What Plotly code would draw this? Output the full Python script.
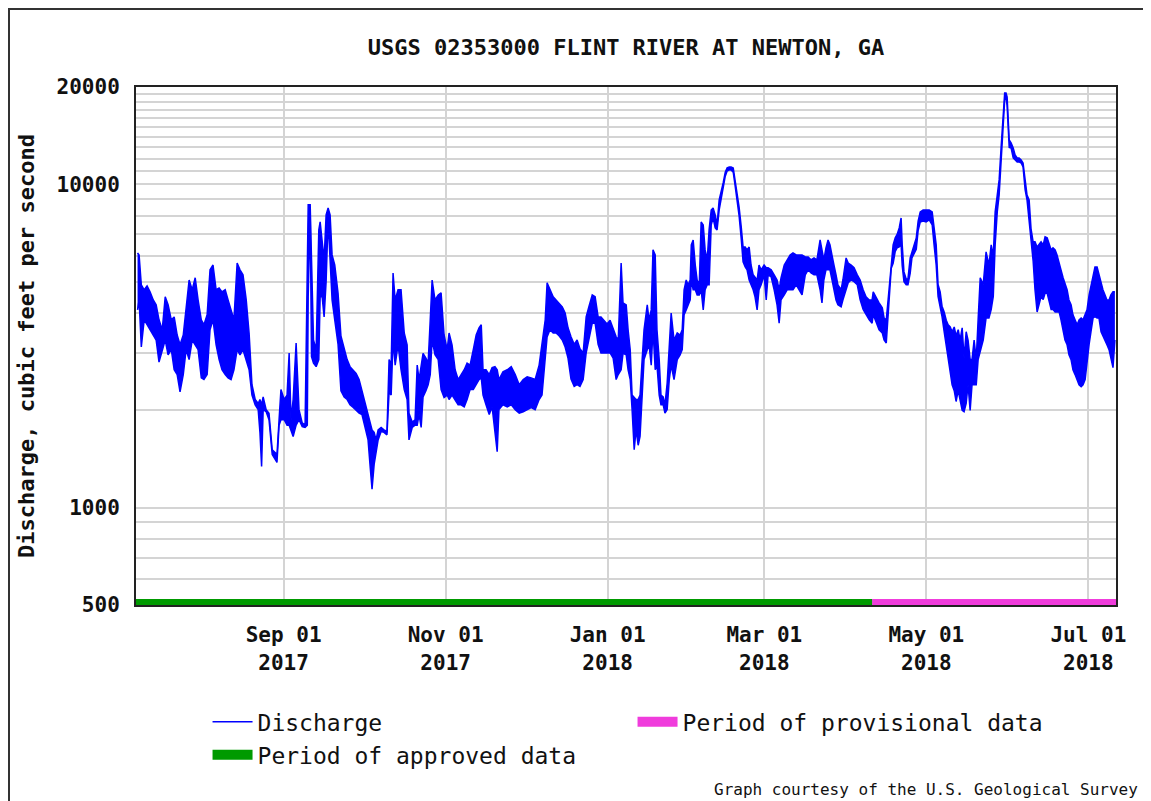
import plotly.graph_objects as go

# ---------------- data read from the USGS hydrograph ----------------
# each sample: time, upper and lower envelope of the 15-min discharge (cfs)
dates = [
    # Jul 2017
    "2017-07-08 00:00", "2017-07-08 14:00", "2017-07-09 10:00", "2017-07-10 12:00", "2017-07-11 14:00",
    "2017-07-12 17:00", "2017-07-13 22:00", "2017-07-15 00:00", "2017-07-16 02:00", "2017-07-17 07:00",
    "2017-07-18 10:00", "2017-07-19 12:00", "2017-07-20 17:00", "2017-07-21 19:00", "2017-07-22 22:00",
    "2017-07-24 00:00", "2017-07-25 05:00", "2017-07-26 07:00", "2017-07-27 10:00", "2017-07-28 14:00",
    "2017-07-29 17:00", "2017-07-30 19:00",
    # Aug 2017
    "2017-08-01 00:00", "2017-08-02 00:00", "2017-08-03 05:00", "2017-08-04 07:00", "2017-08-05 10:00",
    "2017-08-06 14:00", "2017-08-07 17:00", "2017-08-08 19:00", "2017-08-10 00:00", "2017-08-11 02:00",
    "2017-08-12 05:00", "2017-08-13 07:00", "2017-08-14 12:00", "2017-08-15 14:00", "2017-08-16 17:00",
    "2017-08-17 22:00", "2017-08-19 00:00", "2017-08-20 02:00", "2017-08-21 07:00", "2017-08-22 10:00",
    "2017-08-23 02:00", "2017-08-23 17:00", "2017-08-24 07:00", "2017-08-25 10:00", "2017-08-26 12:00",
    "2017-08-27 17:00", "2017-08-28 19:00", "2017-08-29 12:00", "2017-08-30 07:00", "2017-08-31 00:00",
    # Sep 2017
    "2017-09-01 05:00", "2017-09-02 07:00", "2017-09-03 02:00", "2017-09-03 19:00", "2017-09-04 14:00",
    "2017-09-05 17:00", "2017-09-06 19:00", "2017-09-08 00:00", "2017-09-09 02:00", "2017-09-09 22:00",
    "2017-09-10 06:00", "2017-09-11 00:00", "2017-09-11 12:00", "2017-09-12 06:00", "2017-09-13 06:00",
    "2017-09-14 06:00", "2017-09-14 18:00", "2017-09-15 12:00", "2017-09-16 06:00", "2017-09-17 00:00",
    "2017-09-17 18:00", "2017-09-18 12:00", "2017-09-19 06:00", "2017-09-20 06:00", "2017-09-21 12:00",
    "2017-09-22 14:00", "2017-09-23 19:00", "2017-09-24 22:00", "2017-09-26 00:00", "2017-09-27 05:00",
    "2017-09-28 07:00", "2017-09-29 10:00", "2017-09-30 12:00",
    # Oct 2017
    "2017-10-01 17:00", "2017-10-02 19:00", "2017-10-03 14:00", "2017-10-04 07:00", "2017-10-05 02:00",
    "2017-10-05 19:00", "2017-10-06 14:00", "2017-10-07 17:00", "2017-10-08 19:00", "2017-10-09 22:00",
    "2017-10-10 17:00", "2017-10-11 12:00", "2017-10-12 05:00", "2017-10-13 00:00", "2017-10-14 02:00",
    "2017-10-15 05:00", "2017-10-16 10:00", "2017-10-17 12:00", "2017-10-18 05:00", "2017-10-19 10:00",
    "2017-10-20 12:00", "2017-10-21 07:00", "2017-10-22 00:00", "2017-10-22 19:00", "2017-10-23 12:00",
    "2017-10-24 14:00", "2017-10-25 10:00", "2017-10-26 05:00", "2017-10-26 22:00", "2017-10-28 00:00",
    "2017-10-29 05:00", "2017-10-30 07:00", "2017-10-31 10:00",
    # Nov 2017
    "2017-11-01 14:00", "2017-11-02 07:00", "2017-11-03 10:00", "2017-11-04 14:00", "2017-11-05 17:00",
    "2017-11-06 19:00", "2017-11-08 00:00", "2017-11-09 02:00", "2017-11-10 05:00", "2017-11-11 10:00",
    "2017-11-12 12:00", "2017-11-13 14:00", "2017-11-14 10:00", "2017-11-15 02:00", "2017-11-16 05:00",
    "2017-11-17 10:00", "2017-11-18 12:00", "2017-11-19 14:00", "2017-11-20 10:00", "2017-11-21 02:00",
    "2017-11-22 14:00", "2017-11-24 05:00", "2017-11-25 17:00", "2017-11-27 05:00", "2017-11-28 17:00",
    "2017-11-30 05:00",
    # Dec 2017
    "2017-12-01 17:00", "2017-12-03 05:00", "2017-12-04 17:00", "2017-12-06 05:00", "2017-12-07 07:00",
    "2017-12-08 12:00", "2017-12-09 05:00", "2017-12-10 07:00", "2017-12-11 12:00", "2017-12-12 14:00",
    "2017-12-13 17:00", "2017-12-14 22:00", "2017-12-16 00:00", "2017-12-17 02:00", "2017-12-18 05:00",
    "2017-12-19 10:00", "2017-12-20 12:00", "2017-12-21 14:00", "2017-12-22 19:00", "2017-12-23 22:00",
    "2017-12-25 00:00", "2017-12-26 05:00", "2017-12-27 07:00", "2017-12-28 10:00", "2017-12-29 12:00",
    "2017-12-30 17:00", "2017-12-31 19:00",
    # Jan 2018
    "2018-01-01 22:00", "2018-01-03 02:00", "2018-01-04 05:00", "2018-01-05 00:00", "2018-01-06 02:00",
    "2018-01-06 19:00", "2018-01-08 00:00", "2018-01-08 17:00", "2018-01-09 12:00", "2018-01-10 05:00",
    "2018-01-11 00:00", "2018-01-11 17:00", "2018-01-12 12:00", "2018-01-13 05:00", "2018-01-14 00:00",
    "2018-01-14 17:00", "2018-01-15 22:00", "2018-01-16 14:00", "2018-01-17 10:00", "2018-01-18 02:00",
    "2018-01-18 22:00", "2018-01-19 14:00", "2018-01-20 10:00", "2018-01-21 02:00", "2018-01-21 22:00",
    "2018-01-22 14:00", "2018-01-23 10:00", "2018-01-24 05:00", "2018-01-24 22:00", "2018-01-26 00:00",
    "2018-01-27 05:00", "2018-01-28 07:00", "2018-01-29 02:00", "2018-01-29 19:00", "2018-01-30 14:00",
    "2018-01-31 07:00",
    # Feb 2018
    "2018-02-01 02:00", "2018-02-01 12:00", "2018-02-02 05:00", "2018-02-03 00:00", "2018-02-03 17:00",
    "2018-02-04 12:00", "2018-02-05 05:00", "2018-02-06 00:00", "2018-02-06 17:00", "2018-02-07 12:00",
    "2018-02-08 05:00", "2018-02-09 00:00", "2018-02-09 17:00", "2018-02-10 12:00", "2018-02-11 05:00",
    "2018-02-12 00:00", "2018-02-12 17:00", "2018-02-13 12:00", "2018-02-14 07:00", "2018-02-15 00:00",
    "2018-02-15 19:00", "2018-02-16 12:00", "2018-02-17 07:00", "2018-02-18 00:00", "2018-02-18 19:00",
    "2018-02-19 12:00", "2018-02-20 07:00", "2018-02-21 00:00", "2018-02-21 19:00", "2018-02-22 12:00",
    "2018-02-23 07:00", "2018-02-24 00:00", "2018-02-24 19:00", "2018-02-25 12:00", "2018-02-26 07:00",
    "2018-02-27 00:00", "2018-02-27 19:00",
    # Mar 2018
    "2018-02-28 22:00", "2018-03-01 17:00", "2018-03-02 10:00", "2018-03-03 14:00", "2018-03-04 17:00",
    "2018-03-05 19:00", "2018-03-06 14:00", "2018-03-07 07:00", "2018-03-08 12:00", "2018-03-09 14:00",
    "2018-03-10 17:00", "2018-03-11 19:00", "2018-03-13 00:00", "2018-03-14 02:00", "2018-03-15 05:00",
    "2018-03-16 10:00", "2018-03-17 12:00", "2018-03-18 14:00", "2018-03-19 17:00", "2018-03-20 19:00",
    "2018-03-22 00:00", "2018-03-22 17:00", "2018-03-23 10:00", "2018-03-24 05:00", "2018-03-25 00:00",
    "2018-03-25 17:00", "2018-03-26 12:00", "2018-03-27 05:00", "2018-03-28 00:00", "2018-03-28 17:00",
    "2018-03-29 22:00", "2018-03-30 14:00",
    # Apr 2018
    "2018-03-31 19:00", "2018-04-01 14:00", "2018-04-02 17:00", "2018-04-03 19:00", "2018-04-05 00:00",
    "2018-04-06 02:00", "2018-04-07 05:00", "2018-04-08 07:00", "2018-04-09 12:00", "2018-04-10 14:00",
    "2018-04-11 00:00", "2018-04-12 02:00", "2018-04-13 05:00", "2018-04-14 10:00", "2018-04-15 02:00",
    "2018-04-15 22:00", "2018-04-16 14:00", "2018-04-17 00:00", "2018-04-17 19:00", "2018-04-18 12:00",
    "2018-04-19 07:00", "2018-04-20 00:00", "2018-04-20 19:00", "2018-04-21 12:00", "2018-04-21 22:00",
    "2018-04-22 14:00", "2018-04-23 10:00", "2018-04-24 02:00", "2018-04-24 22:00", "2018-04-25 14:00",
    "2018-04-26 10:00", "2018-04-27 05:00", "2018-04-27 22:00", "2018-04-28 17:00", "2018-04-29 19:00",
    # May 2018
    "2018-04-30 22:00", "2018-05-02 02:00", "2018-05-03 05:00", "2018-05-03 22:00", "2018-05-04 17:00",
    "2018-05-05 10:00", "2018-05-06 05:00", "2018-05-06 22:00", "2018-05-07 17:00", "2018-05-08 12:00",
    "2018-05-09 05:00", "2018-05-10 00:00", "2018-05-10 17:00", "2018-05-11 12:00", "2018-05-12 05:00",
    "2018-05-13 00:00", "2018-05-13 17:00", "2018-05-14 12:00", "2018-05-15 05:00", "2018-05-16 00:00",
    "2018-05-16 17:00", "2018-05-17 12:00", "2018-05-18 05:00", "2018-05-19 00:00", "2018-05-19 19:00",
    "2018-05-20 12:00", "2018-05-21 07:00", "2018-05-22 10:00", "2018-05-23 12:00", "2018-05-24 14:00",
    "2018-05-25 10:00", "2018-05-26 05:00", "2018-05-26 22:00", "2018-05-27 17:00", "2018-05-28 10:00",
    "2018-05-29 05:00", "2018-05-29 22:00", "2018-05-30 12:00", "2018-05-31 00:00", "2018-05-31 10:00",
    # Jun 2018
    "2018-06-01 05:00", "2018-06-01 22:00", "2018-06-02 17:00", "2018-06-03 10:00", "2018-06-04 05:00",
    "2018-06-04 22:00", "2018-06-05 17:00", "2018-06-06 10:00", "2018-06-07 05:00", "2018-06-07 22:00",
    "2018-06-08 17:00", "2018-06-09 10:00", "2018-06-10 05:00", "2018-06-10 22:00", "2018-06-11 17:00",
    "2018-06-12 10:00", "2018-06-13 05:00", "2018-06-14 00:00", "2018-06-14 17:00", "2018-06-15 12:00",
    "2018-06-16 05:00", "2018-06-17 00:00", "2018-06-17 17:00", "2018-06-18 12:00", "2018-06-19 05:00",
    "2018-06-20 00:00", "2018-06-20 17:00", "2018-06-21 12:00", "2018-06-22 05:00", "2018-06-23 00:00",
    "2018-06-23 17:00", "2018-06-24 12:00", "2018-06-25 05:00", "2018-06-26 00:00", "2018-06-26 19:00",
    "2018-06-27 12:00", "2018-06-28 07:00", "2018-06-29 00:00", "2018-06-29 19:00", "2018-06-30 12:00",
    # Jul 2018
    "2018-07-01 07:00", "2018-07-02 00:00", "2018-07-02 19:00", "2018-07-03 12:00", "2018-07-04 07:00",
    "2018-07-05 00:00", "2018-07-05 19:00", "2018-07-06 12:00", "2018-07-07 07:00", "2018-07-08 00:00",
    "2018-07-08 19:00", "2018-07-09 12:00", "2018-07-10 07:00", "2018-07-11 00:00",
]

q_high = [
    # Jul 2017
    6140, 6050, 4890, 4720, 4850, 4650, 4390, 4240, 3810, 3550, 4490, 4240, 3810, 3890, 3420,
    3190, 3420, 4240, 5060, 4720, 5140, 4390,
    # Aug 2017
    3810, 3680, 3950, 5440, 5630, 4720, 4780, 4650, 4720, 4390, 4090, 3810, 5710, 5440, 5250,
    4390, 3470, 2400, 2160, 2100, 2160, 2080, 2200, 2010, 1960, 1510, 1480, 1460, 1870, 2320,
    # Sep 2017
    2160, 2230, 3010, 1870, 2160, 3230, 2010, 1830, 1800, 4490, 8640, 8640, 6270, 3300, 3080,
    7230, 7650, 6500, 5840, 8040, 8450, 8040, 6050, 5630, 4600, 3400, 3080, 2870, 2730, 2670,
    2600, 2490, 2300,
    # Oct 2017
    2080, 1940, 1800, 1740, 1710, 1620, 1740, 1770, 1740, 1720, 2870, 2760, 5320, 4390, 4720,
    4720, 3470, 3190, 1960, 1840, 1870, 2760, 2490, 2800, 3000, 2900, 2800, 3810, 5060, 4390,
    4550, 4620, 3420,
    # Nov 2017
    3080, 3470, 3190, 2670, 2490, 2580, 2670, 2800, 2760, 3080, 3420, 3600, 3680, 2670, 2670,
    2580, 2710, 2730, 2670, 2490, 2630, 2670, 2730, 2580, 2400, 2490,
    # Dec 2017
    2540, 2520, 2490, 2760, 3190, 3810, 4960, 4720, 4490, 4390, 4300, 4180, 4000, 3600, 3375,
    3200, 3300, 3100, 3010, 3890, 4200, 4550, 4490, 3890, 3890, 3800, 3700,
    # Jan 2018
    3800, 3600, 3375, 3300, 5710, 4300, 4240, 3550, 3080, 2230, 2200, 2160, 2160, 2230, 2870,
    3550, 4240, 3810, 4090, 6270, 6050, 3550, 2870, 2230, 2200, 2080, 2430, 3080, 4000, 3300,
    3470, 3420, 3550, 4720, 5060, 4890,
    # Feb 2018
    5060, 6500, 6730, 5630, 5060, 4890, 7650, 7490, 6270, 5840, 7230, 8330, 8450, 8040, 7490,
    8950, 9410, 10100, 10900, 11240, 11320, 11320, 11240, 10300, 9410, 8500, 7400, 6400, 6400, 6270,
    6400, 5630, 5250, 5140, 5060, 5630, 5440,
    # Mar 2018
    5630, 5520, 5520, 5440, 5250, 5060, 4720, 5140, 5630, 5840, 6050, 6140, 6050, 6050, 6050,
    5960, 5960, 5840, 5920, 5840, 6730, 6270, 5840, 6360, 6730, 6500, 5960, 5630, 5250, 4890,
    4720, 5060,
    # Apr 2018
    5920, 5710, 5630, 5520, 5250, 5060, 4720, 4490, 4390, 4390, 4650, 4460, 4300, 4150, 3860,
    3810, 4390, 4900, 5920, 6500, 6830, 7000, 7330, 7870, 6500, 5360, 5100, 5100, 5920, 6200,
    6500, 6830, 7700, 8220, 8330,
    # May 2018
    8330, 8330, 8220, 7400, 6500, 4900, 4650, 4200, 4030, 3800, 3680, 3620, 3500, 3620, 3400,
    3550, 3300, 3600, 2900, 3500, 3300, 2870, 2870, 3300, 2870, 3810, 5140, 4900, 6180, 5630,
    6500, 6000, 8220, 9270, 10320, 13230, 16500, 19160, 19160, 18630,
    # Jun 2018
    13720, 13430, 12960, 12330, 12070, 12070, 11900, 11640, 10320, 9270, 8950, 7300, 6640, 6640, 6400,
    6500, 6640, 6500, 6880, 6830, 6500, 6270, 6360, 6270, 6050, 5760, 5440, 5140, 4890, 4720,
    4390, 4240, 3950, 3810, 3680, 3810, 3860, 3810, 3950, 4090,
    # Jul 2018
    4550, 4890, 5250, 5555, 5555, 5250, 4890, 4720, 4550, 4390, 4390, 4550, 4650, 4650,
]

q_low = [
    # Jul 2017
    4090, 4390, 3140, 3810, 3680, 3550, 3420, 3300, 2820, 3080, 3300, 2970, 3080, 2670, 2580,
    2280, 2580, 3080, 2870, 3300, 3190, 3080,
    # Aug 2017
    2520, 2490, 2580, 3550, 3810, 3190, 2870, 2670, 2580, 2520, 2490, 2670, 3080, 2970, 3080,
    2870, 2670, 2230, 2080, 2010, 1710, 1340, 2010, 1980, 1870, 1460, 1410, 1380, 1800, 1870,
    # Sep 2017
    1870, 1800, 1800, 1740, 1660, 1800, 1870, 1780, 1770, 1800, 4490, 8200, 2930, 2800, 2730,
    2870, 4490, 4490, 3890, 5000, 7760, 5840, 4390, 3810, 3200, 2300, 2200, 2160, 2080, 2040,
    2000, 1960, 1940,
    # Oct 2017
    1770, 1620, 1340, 1140, 1360, 1460, 1620, 1720, 1710, 1680, 2270, 2230, 3300, 2760, 3190,
    2670, 2320, 2160, 1620, 1770, 1800, 1800, 1940, 1770, 2200, 2300, 2400, 2580, 3300, 2970,
    2870, 2320, 2190,
    # Nov 2017
    2230, 2160, 2230, 2160, 2080, 2080, 2050, 2160, 2320, 2320, 2400, 2490, 2520, 2230, 2080,
    1940, 2050, 1660, 1490, 2010, 2080, 2050, 2080, 2010, 1960, 1980,
    # Dec 2017
    2010, 2040, 2010, 2160, 2230, 2870, 3375, 3550, 3470, 3470, 3400, 3300, 3140, 2900, 2500,
    2370, 2400, 2370, 2490, 3010, 3300, 3720, 3720, 3200, 3010, 3010, 3010,
    # Jan 2018
    3010, 2900, 2490, 2580, 2670, 3000, 2970, 2670, 2490, 2010, 1510, 1740, 1560, 1660, 2160,
    2870, 3080, 3190, 2760, 3550, 2670, 2760, 2230, 2080, 2080, 1960, 2010, 2490, 2760, 2490,
    2870, 2970, 3080, 3950, 4090, 4240,
    # Feb 2018
    4390, 5060, 4720, 4720, 4550, 4550, 4720, 4090, 4720, 4890, 4890, 7490, 7870, 7330, 7230,
    8330, 8950, 9610, 10600, 11000, 11080, 11080, 10900, 9900, 9000, 8000, 6800, 5760, 5555, 5440,
    5060, 4890, 4720, 4490, 4090, 4720, 4890,
    # Mar 2018
    5250, 4390, 5250, 5170, 4720, 4240, 3720, 4390, 4550, 4720, 4720, 4720, 4890, 4720, 4550,
    5250, 5440, 5320, 5250, 5250, 4720, 4300, 5060, 5440, 5440, 5440, 5060, 4720, 4390, 4240,
    4180, 4390,
    # Apr 2018
    4720, 4960, 5060, 5000, 4890, 4390, 4100, 3950, 3810, 3720, 3950, 3750, 3550, 3470, 3300,
    3230, 3810, 4330, 5500, 5700, 6200, 6360, 6400, 6500, 5600, 5000, 4890, 4890, 5300, 5920,
    6100, 6300, 7200, 7650, 7700,
    # May 2018
    7650, 7760, 7490, 6500, 5630, 4500, 4200, 3900, 3500, 3190, 2900, 2600, 2400, 2300, 2130,
    2300, 2130, 2000, 1980, 2100, 2400, 2000, 2400, 2400, 2400, 2870, 3030, 3300, 3860, 3860,
    4100, 4500, 6500, 8220, 9270, 12000, 15000, 18200, 18630, 17500,
    # Jun 2018
    13000, 12960, 12070, 11900, 11730, 11730, 11640, 11320, 9610, 8950, 7760, 6640, 5800, 4720, 4030,
    4240, 4500, 4400, 4600, 4600, 4330, 4100, 4100, 4030, 4030, 4030, 3810, 3550, 3300, 3190,
    2970, 2870, 2670, 2580, 2490, 2400, 2365, 2400, 2490, 2870,
    # Jul 2018
    3200, 3500, 3860, 3900, 3860, 3860, 3500, 3400, 3300, 3190, 3080, 2870, 2710, 3300,
]

approved_dates = ["2017-07-07 00:00", "2018-04-10 14:00"]
provisional_dates = ["2018-04-10 14:00", "2018-07-11 12:00"]
period_level = [500, 500]

x_range = ["2017-07-07 10:00", "2018-07-11 10:00"]
x_tick_vals = ["2017-09-01", "2017-11-01", "2018-01-01", "2018-03-01", "2018-05-01", "2018-07-01"]
x_tick_text = ["Sep 01<br>2017", "Nov 01<br>2017", "Jan 01<br>2018",
               "Mar 01<br>2018", "May 01<br>2018", "Jul 01<br>2018"]
y_tick_vals = [500, 600, 700, 800, 900, 1000, 2000, 3000, 4000, 5000, 6000, 7000, 8000, 9000,
               10000, 11000, 12000, 13000, 14000, 15000, 16000, 17000, 18000, 19000, 20000]
y_tick_text = ["500", "", "", "", "", "1000", "", "", "", "", "", "", "", "",
               "10000", "", "", "", "", "", "", "", "", "", "20000"]

# ---------------- figure ----------------
# the page body has an 8 px margin, so the figure is sized/offset to compensate
MONO = "DejaVu Sans Mono"
BLUE = "#0000ff"
GREEN = "#009a00"
PINK = "#f03cdc"
FIG_W, FIG_H = 1143, 793

fig = go.Figure()
fig.add_trace(go.Scatter(x=dates, y=q_high, mode="lines", name="Discharge",
                         line=dict(color=BLUE, width=1.5), hoverinfo="skip"))
fig.add_trace(go.Scatter(x=dates, y=q_low, mode="lines", name="Discharge (low)",
                         line=dict(color=BLUE, width=1.5), fill="tonexty",
                         fillcolor=BLUE, showlegend=False, hoverinfo="skip"))
fig.add_trace(go.Scatter(x=provisional_dates, y=period_level, mode="lines",
                         name="Period of provisional data",
                         line=dict(color=PINK, width=12)))
fig.add_trace(go.Scatter(x=approved_dates, y=period_level, mode="lines",
                         name="Period of approved data",
                         line=dict(color=GREEN, width=12)))

axis_font = dict(family=MONO, size=21, color="#111", weight="bold")

fig.update_layout(
    width=FIG_W, height=FIG_H,
    margin=dict(l=128, r=35, t=79, b=196, autoexpand=False),
    paper_bgcolor="white", plot_bgcolor="white",
    title=dict(text="USGS 02353000 FLINT RIVER AT NEWTON, GA",
               font=dict(family=MONO, size=22, color="#111", weight="bold"),
               x=0.5, xref="paper", xanchor="center",
               y=1 - 39 / FIG_H, yref="container", yanchor="middle"),
    showlegend=True,
    legend=dict(orientation="h", x=0.073, xanchor="left", y=-0.184, yanchor="top",
                entrywidth=370, entrywidthmode="pixels", traceorder="normal",
                font=dict(family=MONO, size=23, color="#111"),
                bgcolor="rgba(0,0,0,0)", itemwidth=40),
    xaxis=dict(type="date", range=x_range, tickmode="array",
               tickvals=x_tick_vals, ticktext=x_tick_text,
               tickfont=axis_font, ticks="", ticklabelstandoff=10,
               showgrid=True, gridcolor="#d4d4d4", gridwidth=2,
               showline=True, linecolor="#222", linewidth=2, mirror=True,
               zeroline=False, automargin=False),
    yaxis=dict(type="log", range=[2.69897, 4.30103], tickmode="array",
               tickvals=y_tick_vals, ticktext=y_tick_text,
               tickfont=axis_font, ticks="", ticklabelstandoff=10,
               showgrid=True, gridcolor="#d4d4d4", gridwidth=2,
               showline=True, linecolor="#222", linewidth=2, mirror=True,
               zeroline=False, automargin=False,
               title=dict(text="Discharge, cubic feet per second",
                          font=dict(family=MONO, size=22, color="#111", weight="bold"),
                          standoff=16)),
    annotations=[dict(text="Graph courtesy of the U.S. Geological Survey",
                      xref="paper", yref="paper", x=(1140 - 136) / 980, y=(605 - 789) / 518,
                      xanchor="right", yanchor="middle", showarrow=False,
                      font=dict(family=MONO, size=16, color="#111"))],
    shapes=[dict(type="rect", xref="paper", yref="paper",
                 x0=(9 - 136) / 980, x1=(1165 - 136) / 980,
                 y0=(605 - 820) / 518, y1=(605 - 9) / 518,
                 line=dict(color="#333", width=2), fillcolor="rgba(0,0,0,0)", layer="below")],
)

fig.write_html("out.html")
